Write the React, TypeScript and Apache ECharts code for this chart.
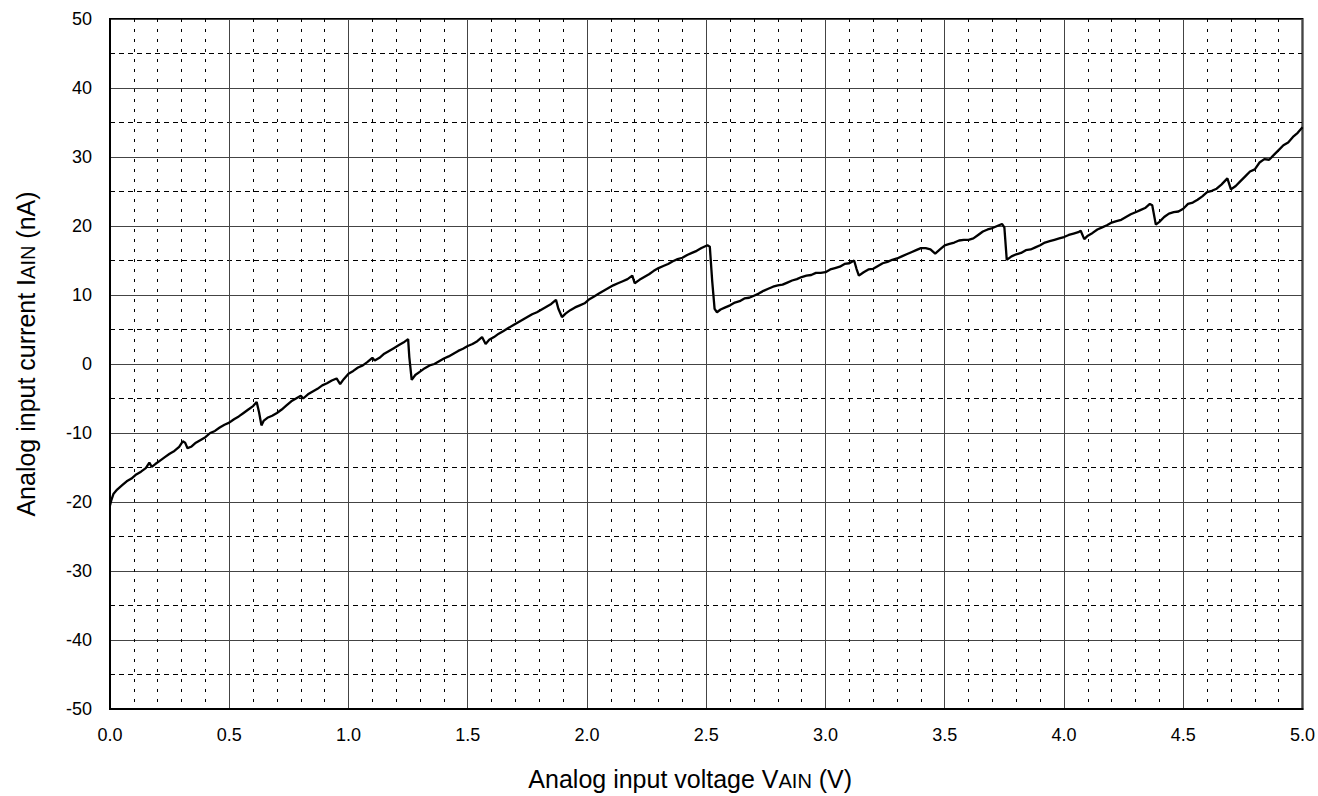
import React, { useEffect, useRef } from "react";
import * as echarts from "echarts";

const xValues: number[] = [
  0.0, 0.005, 0.015, 0.03, 0.05, 0.07, 0.09, 0.11, 0.13, 0.15, 0.165, 0.175, 0.19, 0.21, 0.23, 0.25, 0.27, 0.29, 0.305, 0.315,
  0.325, 0.34, 0.36, 0.38, 0.4, 0.42, 0.44, 0.46, 0.48, 0.5, 0.52, 0.54, 0.56, 0.58, 0.6, 0.615, 0.625, 0.635, 0.645, 0.66,
  0.68, 0.7, 0.72, 0.74, 0.76, 0.78, 0.8, 0.81, 0.83, 0.85, 0.87, 0.89, 0.91, 0.93, 0.95, 0.965, 0.98, 1.0, 1.02, 1.04,
  1.06, 1.08, 1.1, 1.11, 1.13, 1.15, 1.17, 1.19, 1.21, 1.23, 1.25, 1.255, 1.265, 1.28, 1.3, 1.32, 1.34, 1.36, 1.38, 1.4,
  1.42, 1.44, 1.46, 1.48, 1.5, 1.52, 1.54, 1.56, 1.575, 1.59, 1.61, 1.63, 1.65, 1.67, 1.69, 1.71, 1.73, 1.75, 1.77, 1.79,
  1.81, 1.83, 1.85, 1.87, 1.88, 1.895, 1.91, 1.93, 1.95, 1.97, 1.99, 2.01, 2.03, 2.05, 2.07, 2.09, 2.11, 2.13, 2.15, 2.17,
  2.19, 2.2, 2.22, 2.24, 2.26, 2.28, 2.3, 2.32, 2.34, 2.36, 2.38, 2.4, 2.42, 2.44, 2.46, 2.48, 2.505, 2.515, 2.525, 2.535,
  2.545, 2.56, 2.58, 2.6, 2.62, 2.64, 2.66, 2.68, 2.7, 2.72, 2.74, 2.76, 2.78, 2.8, 2.82, 2.84, 2.86, 2.88, 2.9, 2.92,
  2.94, 2.96, 2.98, 3.0, 3.02, 3.04, 3.06, 3.08, 3.1, 3.12, 3.13, 3.14, 3.16, 3.18, 3.2, 3.22, 3.24, 3.26, 3.28, 3.3,
  3.32, 3.34, 3.36, 3.38, 3.4, 3.42, 3.44, 3.46, 3.48, 3.5, 3.52, 3.54, 3.56, 3.58, 3.6, 3.62, 3.64, 3.66, 3.68, 3.7,
  3.72, 3.74, 3.75, 3.76, 3.78, 3.8, 3.82, 3.84, 3.86, 3.88, 3.9, 3.92, 3.94, 3.96, 3.98, 4.0, 4.02, 4.04, 4.06, 4.07,
  4.085, 4.1, 4.12, 4.14, 4.16, 4.18, 4.2, 4.22, 4.24, 4.26, 4.28, 4.3, 4.32, 4.34, 4.36, 4.37, 4.385, 4.4, 4.42, 4.44,
  4.46, 4.48, 4.5, 4.52, 4.54, 4.56, 4.58, 4.6, 4.62, 4.64, 4.66, 4.685, 4.7, 4.72, 4.74, 4.76, 4.78, 4.8, 4.82, 4.84,
  4.86, 4.88, 4.9, 4.92, 4.94, 4.96, 4.98, 5.0,
];

const currentValues: number[] = [
  -20.5, -19.8, -18.8, -18.2, -17.6, -17.0, -16.6, -16.0, -15.6, -15.1, -14.3, -14.9, -14.5, -14.0, -13.5, -13.0, -12.6, -12.0, -11.2, -11.4,
  -12.2, -12.0, -11.4, -11.0, -10.6, -10.0, -9.7, -9.2, -8.8, -8.5, -8.0, -7.6, -7.1, -6.6, -6.1, -5.5, -7.0, -8.9, -8.2, -7.8,
  -7.5, -7.1, -6.6, -6.0, -5.4, -5.0, -4.6, -5.0, -4.4, -4.0, -3.6, -3.1, -2.8, -2.4, -2.1, -2.9, -2.2, -1.4, -1.0, -0.5,
  -0.2, 0.3, 0.9, 0.5, 0.9, 1.5, 1.9, 2.3, 2.7, 3.1, 3.6, 1.0, -2.3, -1.6, -1.1, -0.6, -0.2, 0.0, 0.4, 0.8,
  1.1, 1.5, 1.9, 2.2, 2.6, 2.9, 3.3, 3.9, 2.9, 3.5, 3.9, 4.4, 4.8, 5.2, 5.6, 6.0, 6.4, 6.8, 7.2, 7.5,
  7.9, 8.3, 8.7, 9.3, 8.0, 6.8, 7.3, 7.8, 8.2, 8.5, 8.8, 9.4, 9.8, 10.2, 10.6, 11.0, 11.4, 11.7, 12.0, 12.3,
  12.8, 11.7, 12.2, 12.6, 13.0, 13.5, 13.9, 14.2, 14.5, 14.9, 15.2, 15.4, 15.8, 16.1, 16.4, 16.8, 17.2, 17.0, 12.0, 8.0,
  7.5, 7.9, 8.2, 8.5, 8.9, 9.1, 9.5, 9.6, 9.9, 10.2, 10.6, 10.9, 11.2, 11.4, 11.5, 11.8, 12.1, 12.3, 12.6, 12.8,
  12.9, 13.2, 13.2, 13.3, 13.7, 13.9, 14.1, 14.5, 14.6, 15.0, 13.8, 12.8, 13.3, 13.7, 13.8, 14.2, 14.6, 14.8, 15.1, 15.3,
  15.6, 15.9, 16.2, 16.5, 16.8, 16.8, 16.6, 16.0, 16.6, 17.2, 17.4, 17.6, 17.9, 18.0, 18.0, 18.2, 18.7, 19.2, 19.5, 19.7,
  20.0, 20.3, 19.8, 15.1, 15.6, 15.9, 16.1, 16.5, 16.6, 16.9, 17.2, 17.6, 17.8, 18.0, 18.2, 18.4, 18.7, 18.9, 19.1, 19.3,
  18.1, 18.6, 19.0, 19.5, 19.8, 20.1, 20.5, 20.7, 20.9, 21.3, 21.7, 22.0, 22.3, 22.6, 23.2, 23.0, 20.2, 20.6, 21.3, 21.8,
  22.0, 22.1, 22.5, 23.2, 23.4, 23.8, 24.3, 24.9, 25.1, 25.4, 26.0, 26.9, 25.3, 25.8, 26.5, 27.2, 27.9, 28.2, 29.2, 29.7,
  29.6, 30.3, 31.0, 31.7, 32.1, 32.9, 33.5, 34.3,
];

const xTickValues: number[] = [0, 0.5, 1, 1.5, 2, 2.5, 3, 3.5, 4, 4.5, 5];
const yTickValues: number[] = [-50, -40, -30, -20, -10, 0, 10, 20, 30, 40, 50];

const FONT = "'Liberation Sans', Arial, sans-serif";

const nameRich = {
  a: { fontFamily: FONT, fontSize: 25, color: "#000", verticalAlign: "bottom", lineHeight: 29 },
  s: { fontFamily: FONT, fontSize: 20, color: "#000", verticalAlign: "bottom", lineHeight: 27 },
};

export default function App() {
  const ref = useRef<HTMLDivElement>(null);

  useEffect(() => {
    if (!ref.current) return;
    const chart = echarts.init(ref.current, undefined, { renderer: "svg" });
    const data = xValues.map((x, i) => [x, currentValues[i]]);
    chart.setOption({
      animation: false,
      backgroundColor: "#ffffff",
      grid: {
        left: 110,
        right: 15,
        top: 19,
        bottom: 83,
        show: true,
        borderColor: "#000000",
        borderWidth: 2,
        backgroundColor: "transparent",
      },
      xAxis: {
        type: "value",
        min: xTickValues[0],
        max: xTickValues[xTickValues.length - 1],
        interval: 0.5,
        axisLine: { show: true, onZero: false, lineStyle: { color: "#000", width: 2 } },
        axisTick: { show: false },
        axisLabel: {
          color: "#000",
          fontFamily: FONT,
          fontSize: 18,
          margin: 17,
          formatter: (v: number) => v.toFixed(1),
        },
        splitLine: { show: true, lineStyle: { color: "#444", width: 1 } },
        minorTick: { show: false, splitNumber: 5 },
        minorSplitLine: { show: true, lineStyle: { color: "#000", width: 1, type: [3, 7] } },
        name: "{a|Analog input voltage V}{s|AIN}{a| (V)}",
        nameLocation: "middle",
        nameGap: 53,
        nameTextStyle: { padding: [0, 32, 0, 0], rich: nameRich },
      },
      yAxis: {
        type: "value",
        min: yTickValues[0],
        max: yTickValues[yTickValues.length - 1],
        interval: 10,
        axisLine: { show: true, onZero: false, lineStyle: { color: "#000", width: 2 } },
        axisTick: { show: false },
        axisLabel: { color: "#000", fontFamily: FONT, fontSize: 18, margin: 18 },
        splitLine: { show: true, lineStyle: { color: "#444", width: 1 } },
        minorTick: { show: false, splitNumber: 2 },
        minorSplitLine: { show: true, lineStyle: { color: "#000", width: 1, type: [5, 4] } },
        name: "{a|Analog input current I}{s|AIN}{a| (nA)}",
        nameLocation: "middle",
        nameRotate: 90,
        nameGap: 72,
        nameTextStyle: { padding: [0, 0, 0, 20], rich: nameRich },
      },
      series: [
        {
          type: "line",
          data,
          showSymbol: false,
          symbol: "none",
          lineStyle: { color: "#000", width: 2.3 },
          z: 5,
        },
      ],
    });
    return () => chart.dispose();
  }, []);

  return (
    <div
      ref={ref}
      style={{ position: "fixed", left: 0, top: 0, width: 1318, height: 796, background: "#fff" }}
    />
  );
}
